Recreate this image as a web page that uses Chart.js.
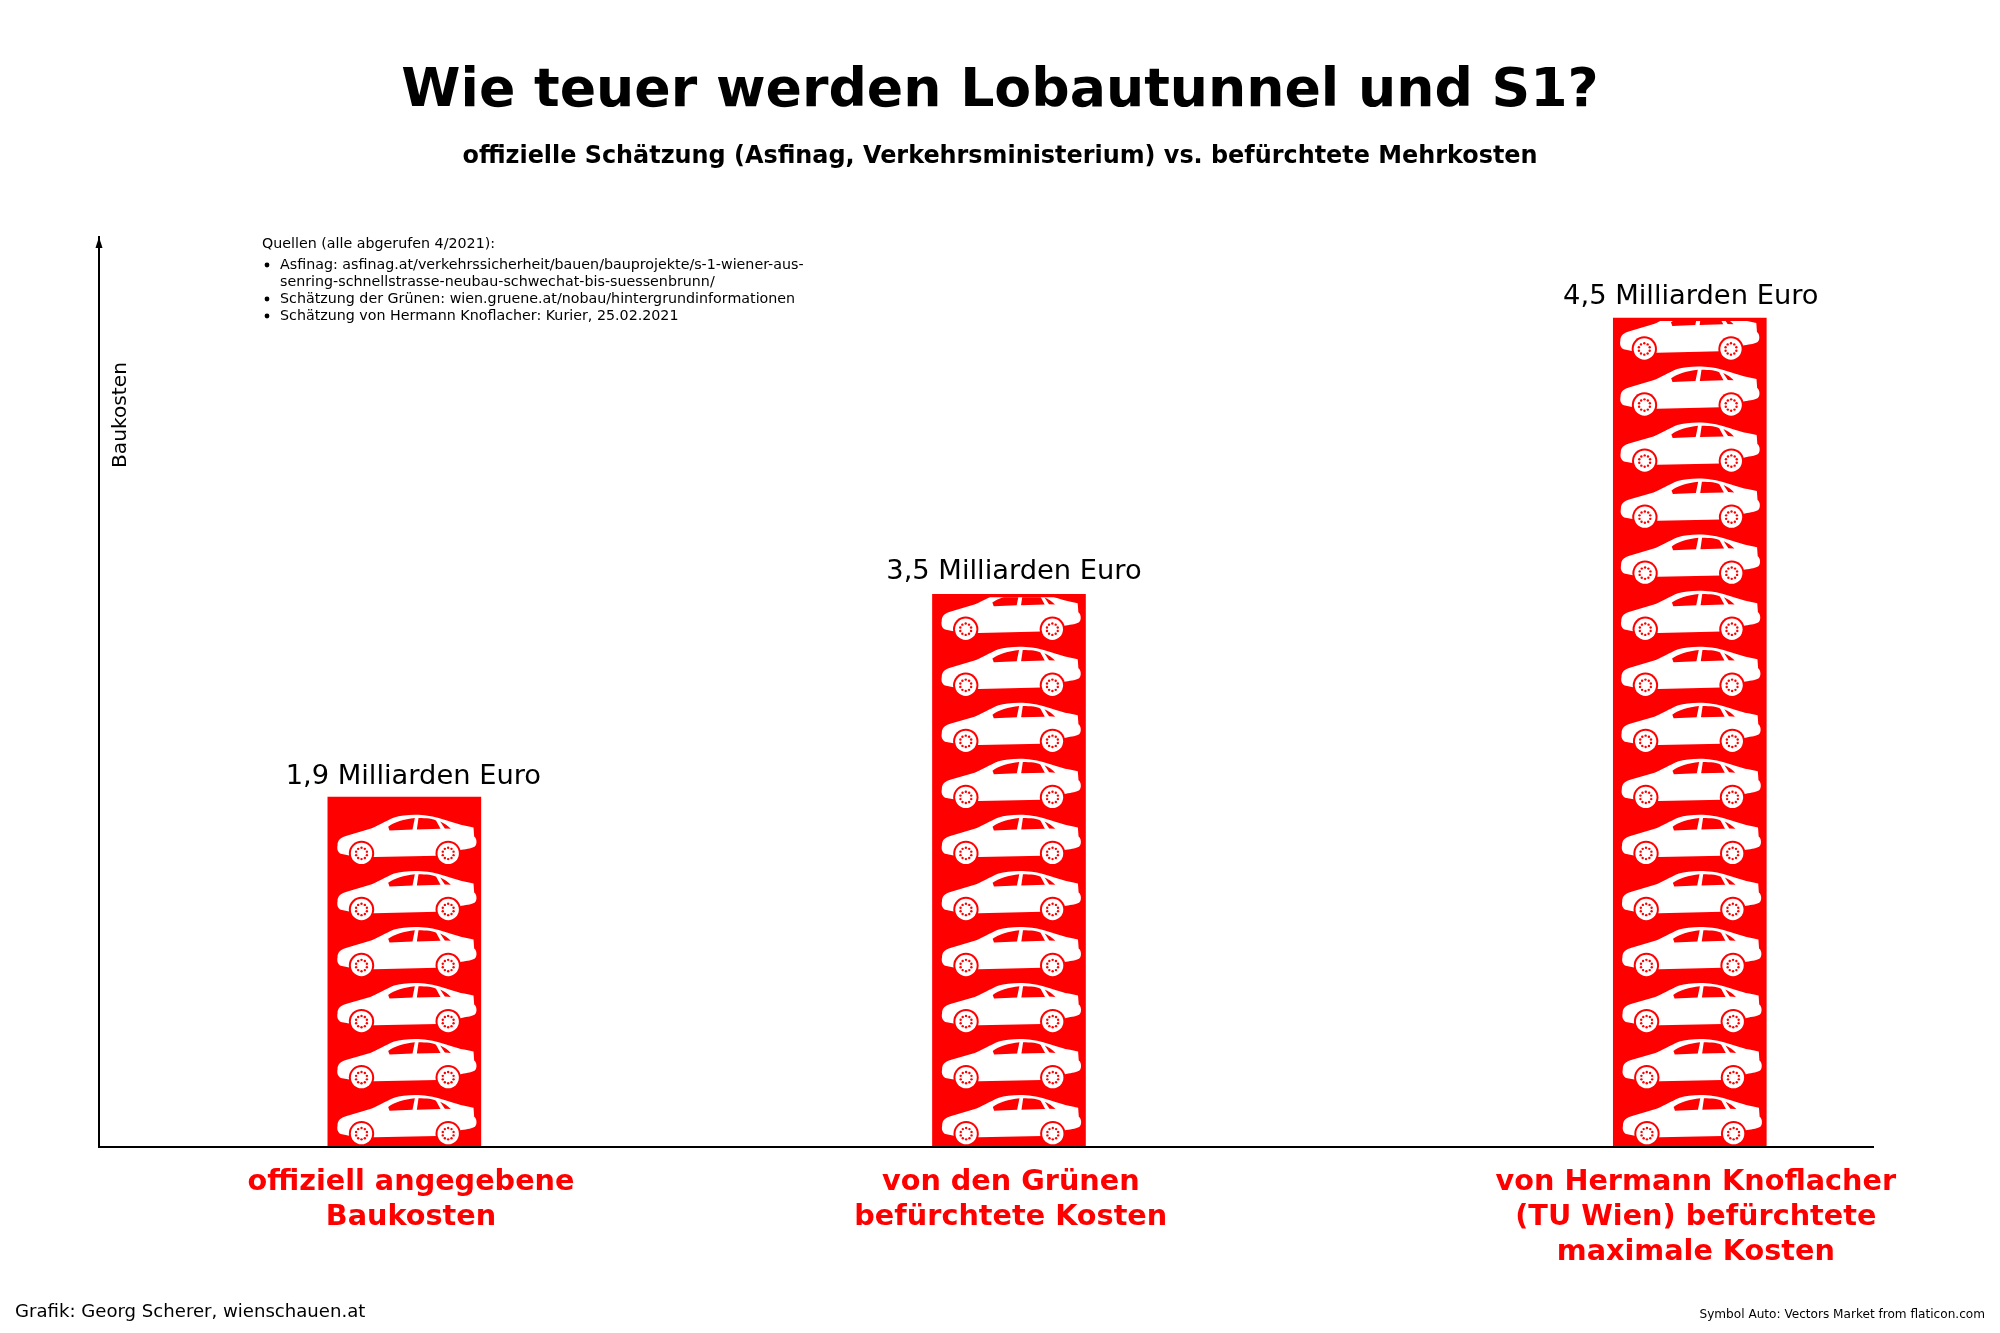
<!DOCTYPE html>
<html lang="de">
<head>
<meta charset="utf-8">
<title>Wie teuer werden Lobautunnel und S1?</title>
<script src="https://cdn.jsdelivr.net/npm/chart.js@4"></script>
<style>html,body{margin:0;padding:0;background:#fff}canvas{display:block}</style>
</head>
<body>
<canvas id="c" width="2000" height="1333"></canvas>
<script>
const titleText = "Wie teuer werden Lobautunnel und S1?";
const subtitleText = "offizielle Schätzung (Asfinag, Verkehrsministerium) vs. befürchtete Mehrkosten";
const categories = [
  ["offiziell angegebene", "Baukosten"],
  ["von den Grünen", "befürchtete Kosten"],
  ["von Hermann Knoflacher", "(TU Wien) befürchtete", "maximale Kosten"]
];
// Bar heights as drawn in the picture (the middle bar is drawn lower than its 3,5 label).
const values = [1.9, 3.0, 4.5];
const valueLabels = ["1,9 Milliarden Euro", "3,5 Milliarden Euro", "4,5 Milliarden Euro"];
// Bars are not evenly spaced in the picture; axis positions in "gap" units.
const barPositions = [1, 2, 3.126];
const tickPositions = [1.0110, 2.003, 3.136];
const yAxisLabel = "Baukosten";
const sourcesHead = "Quellen (alle abgerufen 4/2021):";
const sourcesLines = [
  ["•", "Asfinag: asfinag.at/verkehrssicherheit/bauen/bauprojekte/s-1-wiener-aus-"],
  ["", "senring-schnellstrasse-neubau-schwechat-bis-suessenbrunn/"],
  ["•", "Schätzung der Grünen: wien.gruene.at/nobau/hintergrundinformationen"],
  ["•", "Schätzung von Hermann Knoflacher: Kurier, 25.02.2021"]
];
const creditLeft = "Grafik: Georg Scherer, wienschauen.at";
const creditRight = "Symbol Auto: Vectors Market from flaticon.com";

const RED = "#ff0000";
const FONT = '"DejaVu Sans", sans-serif';

// Car icon outline, drawn in a 3x local grid
const carBody = new Path2D("M20 122 C20 105 30 97 50 92 L118 72 C135 66 165 48 190 38 C215 30 260 28 290 33 C330 38 375 58 400 62 L428 68 L430 95 C438 100 440 118 432 125 C425 130 410 132 392 135 L320 153 L130 157 L55 152 L30 147 C20 142 18 132 20 122 Z");
const carWindows = new Path2D("M172 66 C190 52 220 44 252 40 L245 74 L176 77 Z M263 40 C285 40 310 42 316 48 L329 72 L258 74 Z M328 50 C340 55 350 62 360 72 L342 71 Z");
const wheelXs = [92, 352];

function drawCar(ctx, ox, oy) {
  ctx.save();
  ctx.translate(ox, oy);
  ctx.scale(1 / 3, 1 / 3);
  ctx.fillStyle = "#fff";
  ctx.fill(carBody);
  ctx.fillStyle = RED;
  ctx.fill(carWindows);
  for (const wx of wheelXs) {
    const wy = 146;
    ctx.fillStyle = RED;
    ctx.beginPath(); ctx.arc(wx, wy, 38, 0, Math.PI * 2); ctx.fill();
    ctx.fillStyle = "#fff";
    ctx.beginPath(); ctx.arc(wx, wy, 32, 0, Math.PI * 2); ctx.fill();
    ctx.fillStyle = RED;
    for (let a = 0; a < 10; a++) {
      const t = a * Math.PI / 5 + Math.PI / 10;
      ctx.beginPath(); ctx.arc(wx + Math.cos(t) * 17, wy + Math.sin(t) * 17, 3.6, 0, Math.PI * 2); ctx.fill();
    }
  }
  ctx.restore();
}

const CAR_STEP = 56.05;
const carDrift = [0, 0.05, 0.19];
const labelShift = [9, 5, 1];
const labelRise = [20, 22, 21];

const decorations = {
  id: "decorations",
  afterDatasetsDraw(chart) {
    const ctx = chart.ctx;
    const bars = chart.getDatasetMeta(0).data;
    bars.forEach((bar, i) => {
      const half = bar.width / 2;
      const left = bar.x - half;
      ctx.save();
      ctx.beginPath();
      ctx.rect(left, bar.y + 3, bar.width, bar.base - bar.y - 3);
      ctx.clip();
      const n = Math.round((bar.base - bar.y) / CAR_STEP);
      for (let k = 0; k < n; k++) {
        drawCar(ctx, left + 3 - k * carDrift[i], bar.base - 62 - k * CAR_STEP);
      }
      ctx.restore();
      ctx.fillStyle = "#000";
      ctx.font = '27.3px ' + FONT;
      ctx.textAlign = "center";
      ctx.textBaseline = "middle";
      ctx.fillText(valueLabels[i], bar.x + labelShift[i], bar.y - labelRise[i]);
    });
  },
  afterDraw(chart) {
    const ctx = chart.ctx;
    const a = chart.chartArea;
    // arrow head on the y axis
    ctx.save();
    ctx.fillStyle = "#000";
    ctx.beginPath();
    ctx.moveTo(a.left, a.top);
    ctx.lineTo(a.left - 3.5, a.top + 11);
    ctx.lineTo(a.left + 3.5, a.top + 11);
    ctx.closePath();
    ctx.fill();
    // axis label
    ctx.save();
    ctx.translate(121, 415);
    ctx.rotate(-Math.PI / 2);
    ctx.font = '20.2px ' + FONT;
    ctx.textAlign = "center";
    ctx.textBaseline = "middle";
    ctx.fillText(yAxisLabel, 0, 0);
    ctx.restore();
    // sources
    ctx.textAlign = "left";
    ctx.textBaseline = "middle";
    ctx.font = '14.25px ' + FONT;
    ctx.fillText(sourcesHead, 262, 244);
    const ys = [265, 282, 299, 316];
    sourcesLines.forEach((line, i) => {
      if (line[0]) {
        ctx.beginPath(); ctx.arc(267, ys[i], 2.4, 0, Math.PI * 2); ctx.fill();
      }
      ctx.fillText(line[1], 280, ys[i]);
    });
    // credits
    ctx.font = '18.1px ' + FONT;
    ctx.fillText(creditLeft, 15, 1312);
    ctx.font = '12.1px ' + FONT;
    ctx.textAlign = "right";
    ctx.fillText(creditRight, 1985, 1315);
    ctx.restore();
  }
};

new Chart(document.getElementById("c"), {
  type: "bar",
  data: {
    datasets: [{
      data: barPositions.map((x, i) => ({ x, y: values[i] })),
      backgroundColor: RED,
      borderWidth: 0,
      barThickness: 153
    }]
  },
  options: {
    responsive: false,
    animation: false,
    devicePixelRatio: 1,
    layout: { padding: 0 },
    plugins: {
      legend: { display: false },
      tooltip: { enabled: false },
      title: {
        display: true,
        text: titleText,
        color: "#000",
        font: { family: FONT, size: 53.7, weight: "bold", lineHeight: 1.2 },
        padding: { top: 59.6, bottom: 18.1 }
      },
      subtitle: {
        display: true,
        text: subtitleText,
        color: "#000",
        font: { family: FONT, size: 23.9, weight: "bold", lineHeight: 1.2 },
        padding: { top: 0, bottom: 66.1 }
      }
    },
    scales: {
      x: {
        type: "linear",
        offset: false,
        min: 0.495,
        max: 3.429,
        grid: { display: false },
        border: { display: true, color: "#000", width: 2, z: 1 },
        afterFit(s) { s.height = 186; },
        afterBuildTicks(s) { s.ticks = tickPositions.map(v => ({ value: v })); },
        ticks: {
          autoSkip: false,
          maxRotation: 0,
          minRotation: 0,
          padding: 10,
          color: RED,
          font: { family: FONT, size: 28.7, weight: "bold", lineHeight: 1.22 },
          callback: (v, i) => categories[i]
        }
      },
      y: {
        min: 0,
        max: 4.94,
        grid: { display: false },
        border: { display: true, color: "#000", width: 2 },
        afterFit(s) { s.width = 99; },
        ticks: { display: false }
      },
      rightMargin: {
        axis: "y",
        position: "right",
        display: true,
        grid: { display: false },
        border: { display: false },
        afterFit(s) { s.width = 127; },
        ticks: { display: false }
      }
    }
  },
  plugins: [decorations]
});
</script>
</body>
</html>
